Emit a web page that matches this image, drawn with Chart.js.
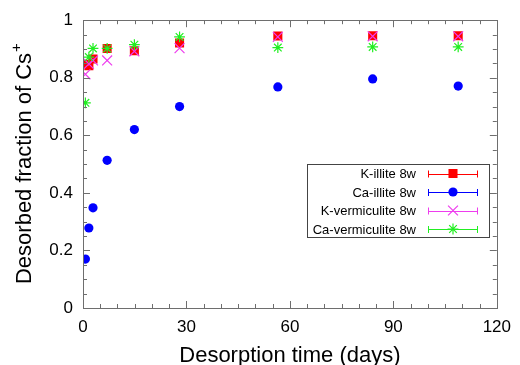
<!DOCTYPE html>
<html>
<head>
<meta charset="utf-8">
<script src="https://cdn.jsdelivr.net/npm/chart.js@4"></script>
<style>
  html, body { margin: 0; padding: 0; background: #fff; }
  #wrap { width: 520px; height: 365px; }
</style>
</head>
<body>
<div id="wrap"><canvas id="chart"></canvas></div>
<script>
// desorption times (days) shared by all four samples
const days = [0.7, 1.7, 2.9, 7, 14.9, 28, 56.5, 84, 108.8];

// desorbed fraction of Cs+ per sample
const kIllite = [0.847, 0.842, 0.865, 0.902, 0.894, 0.921, 0.945, 0.946, 0.946];
const caIllite = [0.170, 0.278, 0.348, 0.513, 0.620, 0.700, 0.768, 0.796, 0.771];
const kVermiculite = [0.812, 0.848, 0.860, 0.860, 0.892, 0.903, 0.942, 0.944, 0.944];
const caVermiculite = [0.713, 0.872, 0.902, 0.902, 0.915, 0.942, 0.905, 0.907, 0.907];

const seriesLabels = ['K-illite 8w', 'Ca-illite 8w', 'K-vermiculite 8w', 'Ca-vermiculite 8w'];
const xTicks = [0, 30, 60, 90, 120];
const yTicks = [0, 0.2, 0.4, 0.6, 0.8, 1];

const FONT = '"Liberation Sans", Arial, Helvetica, sans-serif';
const AXIS_COLOR = '#6e6e6e';

function toPoints(values) {
    return days.map((d, i) => ({ x: d, y: values[i] }));
}

const styles = [
    { color: '#ff0000', pointStyle: 'rect', radius: 6.4, borderWidth: 0, order: 4 },
    { color: '#0000ff', pointStyle: 'circle', radius: 4.6, borderWidth: 0, order: 3 },
    { color: '#ee3dee', pointStyle: 'crossRot', radius: 7, borderWidth: 1.2, order: 2 },
    { color: '#22ee22', pointStyle: 'star', radius: 5.4, borderWidth: 1.2, order: 1 }
];

const seriesData = [kIllite, caIllite, kVermiculite, caVermiculite];

const datasets = seriesData.map((values, i) => ({
    label: seriesLabels[i],
    data: toPoints(values),
    showLine: false,
    pointStyle: styles[i].pointStyle,
    pointRadius: styles[i].radius,
    pointBackgroundColor: styles[i].color,
    pointBorderColor: styles[i].color,
    pointBorderWidth: styles[i].borderWidth,
    order: styles[i].order
}));

// frame, inward major/minor ticks on all four sides
const framePlugin = {
    id: 'frame',
    afterDatasetsDraw(chart) {
        const ctx = chart.ctx;
        const a = chart.chartArea;
        const xs = chart.scales.x;
        const ys = chart.scales.y;
        ctx.save();
        ctx.strokeStyle = AXIS_COLOR;
        ctx.lineWidth = 1;
        ctx.beginPath();
        for (let d = 0; d <= 120; d += 5) {
            const px = Math.round(xs.getPixelForValue(d)) + 0.5;
            const len = d % 30 === 0 ? 7 : 4;
            ctx.moveTo(px, a.bottom); ctx.lineTo(px, a.bottom - len);
            ctx.moveTo(px, a.top); ctx.lineTo(px, a.top + len);
        }
        for (let k = 0; k <= 20; k++) {
            const v = k * 0.05;
            const py = Math.round(ys.getPixelForValue(v)) + 0.5;
            const len = k % 4 === 0 ? 7 : 4;
            ctx.moveTo(a.left, py); ctx.lineTo(a.left + len, py);
            ctx.moveTo(a.right, py); ctx.lineTo(a.right - len, py);
        }
        ctx.stroke();
        ctx.strokeRect(Math.round(a.left) + 0.5, Math.round(a.top) + 0.5,
            Math.round(a.right - a.left), Math.round(a.bottom - a.top));
        ctx.restore();
    }
};

// axis titles (y title carries a superscript +)
const titlesPlugin = {
    id: 'titles',
    afterDraw(chart) {
        const ctx = chart.ctx;
        const a = chart.chartArea;
        ctx.save();
        ctx.fillStyle = '#000';
        ctx.font = '22px ' + FONT;
        ctx.textAlign = 'center';
        ctx.textBaseline = 'alphabetic';
        ctx.fillText('Desorption time (days)', (a.left + a.right) / 2, 362);

        const main = 'Desorbed fraction of Cs';
        const w1 = ctx.measureText(main).width;
        ctx.font = '15px ' + FONT;
        const w2 = ctx.measureText('+').width;
        ctx.translate(31, (a.top + a.bottom) / 2);
        ctx.rotate(-Math.PI / 2);
        const start = -(w1 + w2) / 2;
        ctx.textAlign = 'left';
        ctx.font = '22px ' + FONT;
        ctx.fillText(main, start, 0);
        ctx.font = '15px ' + FONT;
        ctx.fillText('+', start + w1 + 1, -10);
        ctx.restore();
    }
};

// boxed key with error-bar style samples
const keyPlugin = {
    id: 'key',
    afterDraw(chart) {
        const ctx = chart.ctx;
        const box = { left: 307.5, top: 164.5, width: 182, height: 73 };
        const rows = [173.5, 192, 210.5, 229];
        ctx.save();
        ctx.fillStyle = '#fff';
        ctx.fillRect(box.left, box.top, box.width, box.height);
        ctx.strokeStyle = '#444';
        ctx.lineWidth = 1;
        ctx.strokeRect(box.left, box.top, box.width, box.height);
        ctx.font = '13px ' + FONT;
        ctx.textAlign = 'right';
        ctx.textBaseline = 'middle';
        seriesLabels.forEach((label, i) => {
            const y = rows[i];
            const st = styles[i];
            ctx.fillStyle = '#000';
            ctx.fillText(label, 416, y + 1);
            ctx.strokeStyle = st.color;
            ctx.lineWidth = 1;
            ctx.beginPath();
            ctx.moveTo(428, Math.round(y) + 0.5); ctx.lineTo(478, Math.round(y) + 0.5);
            ctx.moveTo(428.5, y - 3); ctx.lineTo(428.5, y + 4);
            ctx.moveTo(477.5, y - 3); ctx.lineTo(477.5, y + 4);
            ctx.stroke();
            ctx.fillStyle = st.color;
            ctx.lineWidth = st.borderWidth || 1;
            Chart.helpers.drawPoint(ctx, {
                pointStyle: st.pointStyle,
                radius: st.radius,
                borderWidth: st.borderWidth,
                rotation: 0
            }, 453, y);
        });
        ctx.restore();
    }
};

new Chart(document.getElementById('chart'), {
    type: 'scatter',
    data: { datasets: datasets },
    options: {
        responsive: true,
        maintainAspectRatio: false,
        animation: false,
        layout: { padding: { top: 19, right: 19, left: 0, bottom: 0 } },
        plugins: {
            legend: { display: false },
            tooltip: { enabled: false }
        },
        scales: {
            x: {
                type: 'linear',
                min: 0,
                max: 120,
                afterBuildTicks: (scale) => { scale.ticks = xTicks.map(v => ({ value: v })); },
                afterFit: (scale) => { scale.height = 57; },
                ticks: {
                    color: '#000',
                    padding: 9,
                    maxRotation: 0,
                    font: { family: FONT, size: 17 }
                },
                grid: { display: false, drawTicks: false },
                border: { display: false }
            },
            y: {
                type: 'linear',
                min: 0,
                max: 1,
                afterBuildTicks: (scale) => { scale.ticks = yTicks.map(v => ({ value: v })); },
                afterFit: (scale) => { scale.width = 83; },
                ticks: {
                    color: '#000',
                    padding: 10,
                    font: { family: FONT, size: 17 },
                    callback: (v) => String(Math.round(v * 10) / 10)
                },
                grid: { display: false, drawTicks: false },
                border: { display: false }
            }
        }
    },
    plugins: [framePlugin, titlesPlugin, keyPlugin]
});
</script>
</body>
</html>
